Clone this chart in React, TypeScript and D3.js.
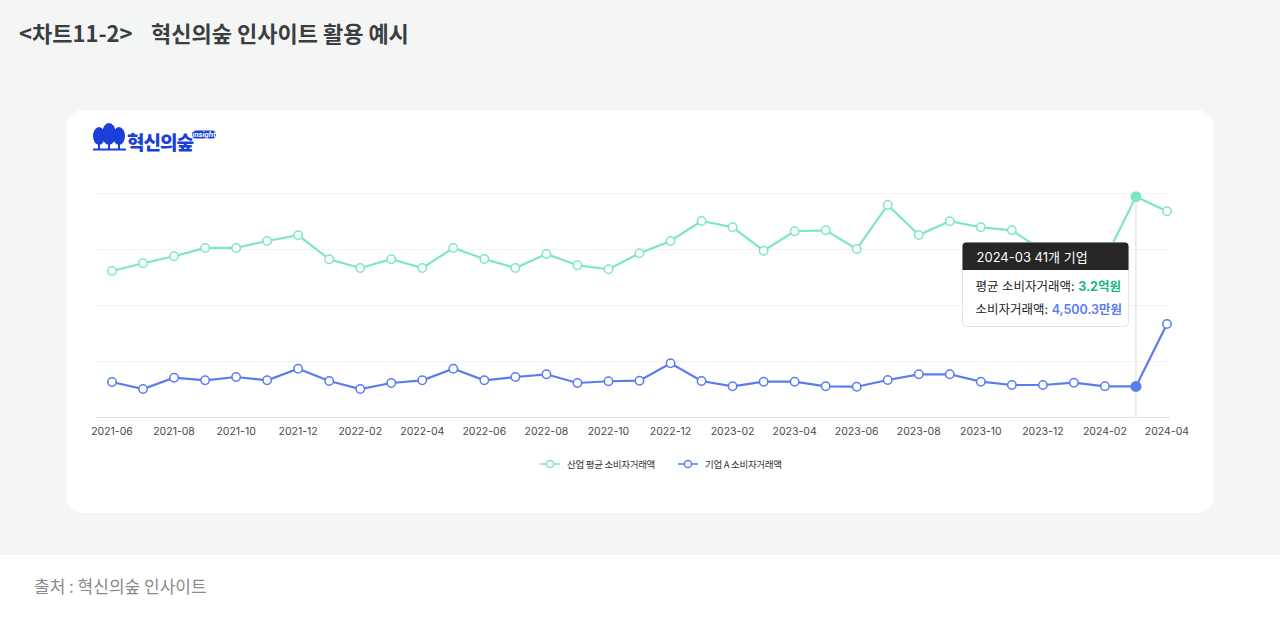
import React, { useEffect, useRef } from 'react';
import * as d3 from 'd3';

// 월별 데이터 (단위: 만원)
const months = [
  '2021-06', '2021-07', '2021-08', '2021-09', '2021-10', '2021-11', '2021-12',
  '2022-01', '2022-02', '2022-03', '2022-04', '2022-05', '2022-06', '2022-07',
  '2022-08', '2022-09', '2022-10', '2022-11', '2022-12', '2023-01', '2023-02',
  '2023-03', '2023-04', '2023-05', '2023-06', '2023-07', '2023-08', '2023-09',
  '2023-10', '2023-11', '2023-12', '2024-01', '2024-02', '2024-03', '2024-04',
];

const industryAvg = [
  21230, 22350, 23360, 24570, 24570, 25580, 26410,
  22930, 21670, 22930, 21670, 24570, 22970, 21670,
  23700, 22060, 21480, 23800, 25580, 28480, 27570,
  24170, 26990, 27130, 24420, 30800, 26450, 28440,
  27570, 27130, 24130, 23550, 22970, 32000, 29880,
];

const companyA = [
  5150, 4130, 5770, 5390, 5870, 5390, 7070,
  5290, 4130, 5000, 5390, 7070, 5390, 5870,
  6260, 5000, 5250, 5330, 7860, 5290, 4520,
  5190, 5190, 4520, 4460, 5440, 6260, 6260,
  5190, 4710, 4710, 5040, 4520, 4500.3, 13550,
];

const seriesNames = ['산업 평균 소비자거래액', '기업 A 소비자거래액'];
const yMax = 32460;
const hoverMonth = '2024-03';
const hoverCompanies = 41;

const GREEN = '#7de6c9';
const BLUE = '#5b7bef';
const KR = "'Noto Sans CJK KR', 'Noto Sans', sans-serif";
const NUM = "Inter, 'Noto Sans CJK KR', sans-serif";

const App: React.FC = () => {
  const svgRef = useRef<SVGSVGElement>(null);

  useEffect(() => {
    if (!svgRef.current) return;
    const svg = d3.select(svgRef.current);
    svg.selectAll('*').remove();

    // 배경
    svg.append('rect').attr('width', 1280).attr('height', 555).attr('fill', '#f4f6f5');
    svg.append('rect').attr('y', 555).attr('width', 1280).attr('height', 63).attr('fill', '#ffffff');

    // 제목
    const title = svg.append('text')
      .attr('y', 42)
      .attr('font-family', KR)
      .attr('font-size', 22)
      .attr('font-weight', 700)
      .attr('fill', '#3b3d3f');
    title.append('tspan').attr('x', 19).text('<차트11-2>');
    title.append('tspan').attr('x', 151).text('혁신의숲 인사이트 활용 예시');

    // 카드
    svg.append('rect')
      .attr('x', 67).attr('y', 110)
      .attr('width', 1146).attr('height', 403)
      .attr('rx', 16)
      .attr('fill', '#ffffff');

    // 로고
    const logo = svg.append('g').attr('fill', '#1b3fd9');
    [[99, 6, 9], [109, 7, 11], [119, 6, 9]].forEach(([cx, rx, ry]) => {
      logo.append('ellipse').attr('cx', cx).attr('cy', 148 - ry - 3).attr('rx', rx).attr('ry', ry);
      logo.append('rect').attr('x', cx - 1).attr('y', 143).attr('width', 2).attr('height', 6);
    });
    logo.append('rect').attr('x', 93).attr('y', 148.5).attr('width', 33).attr('height', 2);
    logo.append('text')
      .attr('x', 127).attr('y', 150)
      .attr('font-family', KR).attr('font-size', 19).attr('font-weight', 900)
      .attr('letter-spacing', -1)
      .text('혁신의숲');
    logo.append('rect').attr('x', 192).attr('y', 130.5).attr('width', 24).attr('height', 8).attr('rx', 4);
    svg.append('text')
      .attr('x', 204).attr('y', 137)
      .attr('text-anchor', 'middle')
      .attr('font-family', NUM).attr('font-size', 7).attr('font-weight', 700)
      .attr('font-style', 'italic')
      .attr('fill', '#ffffff')
      .text('insight');

    // 스케일
    const x = d3.scalePoint<string>().domain(months).range([112, 1167]);
    const y = d3.scaleLinear().domain([0, yMax]).range([417.5, 193.5]);

    // 그리드
    const grid = d3.range(5).map(i => (yMax * i) / 4);
    svg.append('g')
      .selectAll('line')
      .data(grid)
      .enter().append('line')
      .attr('x1', 95).attr('x2', 1170)
      .attr('y1', d => y(d)).attr('y2', d => y(d))
      .attr('stroke', d => (d === 0 ? '#e3e3e3' : '#f3f3f3'))
      .attr('stroke-width', 1);

    // x축 라벨
    svg.append('g')
      .selectAll('text')
      .data(months.filter((_, i) => i % 2 === 0))
      .enter().append('text')
      .attr('x', d => x(d)!)
      .attr('y', 435)
      .attr('text-anchor', 'middle')
      .attr('font-family', NUM)
      .attr('font-size', 10.5)
      .attr('fill', '#4a4a4a')
      .text(d => d);

    // 포커스 세로선
    const hi = months.indexOf(hoverMonth);
    svg.append('line')
      .attr('x1', x(hoverMonth)!).attr('x2', x(hoverMonth)!)
      .attr('y1', y(industryAvg[hi])).attr('y2', 417.5)
      .attr('stroke', '#d9d9d9').attr('stroke-width', 1);

    const line = d3.line<number>()
      .x((_, i) => x(months[i])!)
      .y(d => y(d));

    const drawSeries = (values: number[], color: string) => {
      const g = svg.append('g');
      g.append('path')
        .datum(values)
        .attr('d', line)
        .attr('fill', 'none')
        .attr('stroke', color)
        .attr('stroke-width', 2.2);
      g.selectAll('circle')
        .data(values)
        .enter().append('circle')
        .attr('cx', (_, i) => x(months[i])!)
        .attr('cy', d => y(d))
        .attr('r', (_, i) => (i === hi ? 5.5 : 4.2))
        .attr('fill', (_, i) => (i === hi ? color : '#ffffff'))
        .attr('stroke', color)
        .attr('stroke-width', (_, i) => (i === hi ? 0 : 1.5));
    };
    drawSeries(industryAvg, GREEN);
    drawSeries(companyA, BLUE);

    // 범례
    const legend = svg.append('g')
      .attr('font-family', KR).attr('font-size', 9.5).attr('letter-spacing', -0.3).attr('fill', '#333');
    [[540, GREEN, seriesNames[0]], [678, BLUE, seriesNames[1]]].forEach(([lx, c, name]) => {
      const x0 = lx as number;
      legend.append('line').attr('x1', x0).attr('x2', x0 + 20).attr('y1', 464).attr('y2', 464)
        .attr('stroke', c as string).attr('stroke-width', 1.5);
      legend.append('circle').attr('cx', x0 + 10).attr('cy', 464).attr('r', 3.6)
        .attr('fill', '#fff').attr('stroke', c as string).attr('stroke-width', 1.5);
      legend.append('text').attr('x', x0 + 27).attr('y', 467.5).text(name as string);
    });

    // 툴팁
    const tip = svg.append('g').attr('transform', 'translate(962.5,242.5)');
    tip.append('rect')
      .attr('width', 166).attr('height', 84).attr('rx', 4)
      .attr('fill', '#ffffff').attr('stroke', '#e4e4e4');
    tip.append('path')
      .attr('d', 'M0,27.5 V4 a4,4 0 0 1 4,-4 H162 a4,4 0 0 1 4,4 V27.5 Z')
      .attr('fill', '#262626');
    tip.append('text')
      .attr('x', 14).attr('y', 19)
      .attr('font-family', NUM).attr('font-size', 13)
      .attr('fill', '#ffffff')
      .text(`${hoverMonth} ${hoverCompanies}개 기업`);
    const row1 = tip.append('text')
      .attr('x', 13).attr('y', 48)
      .attr('font-family', NUM).attr('font-size', 12.5).attr('fill', '#222');
    row1.append('tspan').text('평균 소비자거래액: ');
    row1.append('tspan').attr('fill', '#12b886').attr('font-weight', 700)
      .text(`${d3.format('.1f')(industryAvg[hi] / 10000)}억원`);
    const row2 = tip.append('text')
      .attr('x', 13).attr('y', 71)
      .attr('font-family', NUM).attr('font-size', 12.5).attr('fill', '#222');
    row2.append('tspan').text('소비자거래액: ');
    row2.append('tspan').attr('fill', BLUE).attr('font-weight', 600)
      .text(`${d3.format(',.1f')(companyA[hi])}만원`);

    // 출처
    svg.append('text')
      .attr('x', 34).attr('y', 593)
      .attr('font-family', KR).attr('font-size', 17)
      .attr('fill', '#8a8a8a')
      .text('출처 : 혁신의숲 인사이트');
  }, []);

  return (
    <svg
      ref={svgRef}
      width={1280}
      height={618}
      style={{ position: 'absolute', left: 0, top: 0, display: 'block' }}
    />
  );
};

export default App;
